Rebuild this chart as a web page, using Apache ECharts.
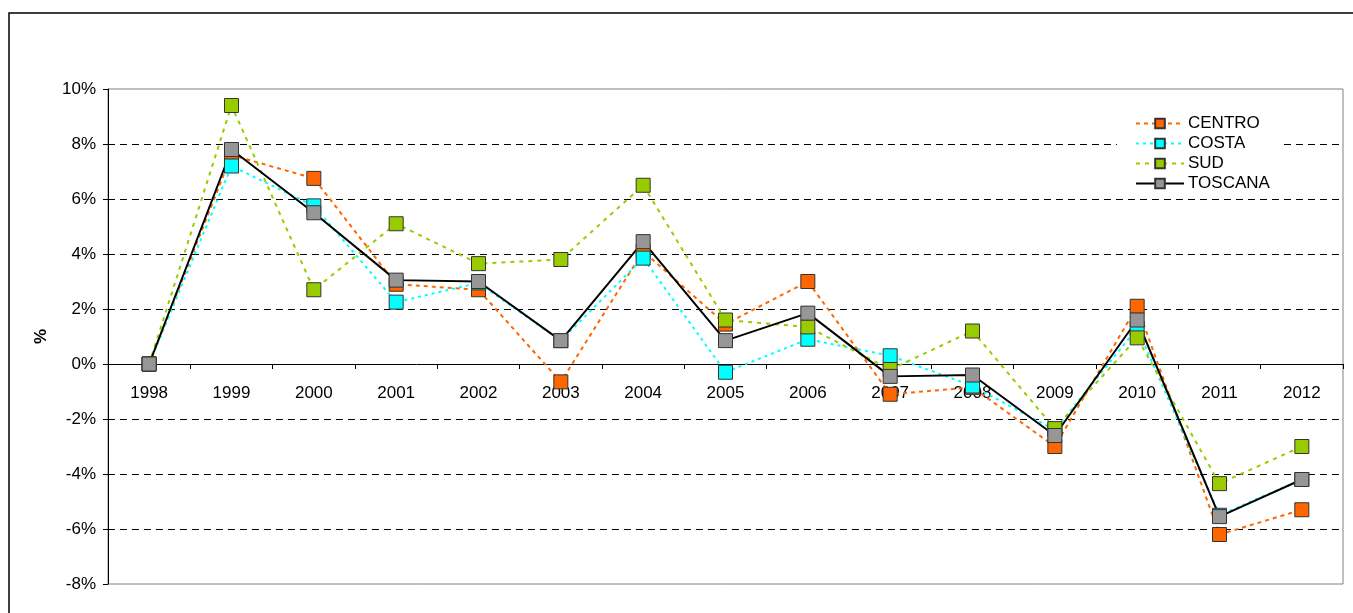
<!DOCTYPE html>
<html>
<head>
<meta charset="utf-8">
<script src="https://cdn.jsdelivr.net/npm/echarts@6/dist/echarts.min.js"></script>
<style>
  html, body { margin: 0; padding: 0; background: #fff; }
  #chart { width: 1353px; height: 613px; }
</style>
</head>
<body>
<div id="chart"></div>
<script>
// categorie (anni)
var years = ['1998','1999','2000','2001','2002','2003','2004','2005','2006','2007','2008','2009','2010','2011','2012'];
// variazioni % per area
var centro  = [0, 7.6, 6.75, 2.9, 2.7, -0.65, 4.1, 1.45, 3.0, -1.1, -0.85, -3.0, 2.1, -6.2, -5.3];
var costa   = [0, 7.2, 5.75, 2.25, 2.95, 0.85, 3.85, -0.3, 0.9, 0.3, -0.8, -2.4, 1.3, -5.5, -4.2];
var sud     = [0, 9.4, 2.7, 5.1, 3.65, 3.8, 6.5, 1.6, 1.35, -0.2, 1.2, -2.35, 0.95, -4.35, -3.0];
var toscana = [0, 7.8, 5.5, 3.05, 3.0, 0.85, 4.45, 0.85, 1.85, -0.45, -0.4, -2.6, 1.6, -5.55, -4.2];

var font = '"Liberation Sans", Arial, sans-serif';

function serie(name, data, color, lineType, lineColor) {
  return {
    name: name,
    type: 'line',
    data: data,
    symbol: 'rect',
    symbolSize: 14,
    itemStyle: { color: color, borderColor: '#333', borderWidth: 1 },
    lineStyle: { color: lineColor || color, width: 2, type: lineType },
    emphasis: { disabled: true }
  };
}

var myChart = echarts.init(document.getElementById('chart'));
myChart.setOption({
  animation: false,
  textStyle: { fontFamily: font },
  graphic: [{
    type: 'rect',
    shape: { x: 9, y: 13, width: 1360, height: 620 },
    style: { fill: 'none', stroke: '#000', lineWidth: 1.5 },
    silent: true
  }],
  grid: [
    // area del grafico
    { left: 108, right: 10, top: 89, bottom: 29, show: true, borderColor: '#808080', borderWidth: 1 },
    // solo per le etichette degli anni, sotto la linea dello zero
    { left: 108, right: 10, top: 89, bottom: 249 }
  ],
  legend: {
    orient: 'vertical',
    left: 1117, top: 112,
    padding: [3, 12, 3, 18],
    backgroundColor: '#fff',
    itemWidth: 48, itemHeight: 12, itemGap: 3,
    textStyle: { fontSize: 17, color: '#000', fontFamily: font, padding: [0, 0, 0, -1] },
    data: ['CENTRO', 'COSTA', 'SUD', 'TOSCANA']
  },
  xAxis: [{
    type: 'category',
    gridIndex: 0,
    data: years,
    boundaryGap: true,
    axisLine: { onZero: true, lineStyle: { color: '#000', width: 1 } },
    axisTick: { show: true, length: 5, lineStyle: { color: '#000' } },
    axisLabel: { show: false },
    splitLine: { show: false }
  }, {
    type: 'category',
    gridIndex: 1,
    data: years,
    boundaryGap: true,
    axisLine: { show: false },
    axisTick: { show: false },
    axisLabel: { fontSize: 17, color: '#000', margin: 21, fontFamily: font },
    splitLine: { show: false }
  }],
  yAxis: [{
    type: 'value',
    gridIndex: 0,
    min: -8, max: 10, interval: 2,
    name: '%',
    nameLocation: 'middle',
    nameRotate: 90,
    nameGap: 58,
    nameTextStyle: { fontSize: 17, fontWeight: 'bold', color: '#000', fontFamily: font },
    axisLine: { show: true, lineStyle: { color: '#000', width: 1 } },
    axisTick: { show: true, length: 5, lineStyle: { color: '#000' } },
    axisLabel: { formatter: '{value}%', fontSize: 17, color: '#000', margin: 12, fontFamily: font },
    splitLine: {
      show: true,
      showMinLine: false,
      showMaxLine: false,
      lineStyle: { color: '#000', type: [7, 5], width: 1 }
    }
  }, {
    type: 'value',
    gridIndex: 1,
    show: false
  }],
  series: [
    serie('CENTRO', centro, '#FF6600', [4, 4]),
    serie('COSTA', costa, '#00FFFF', [3, 4]),
    serie('SUD', sud, '#99CC00', [4, 5]),
    serie('TOSCANA', toscana, '#969696', 'solid', '#000')
  ]
});
</script>
</body>
</html>
